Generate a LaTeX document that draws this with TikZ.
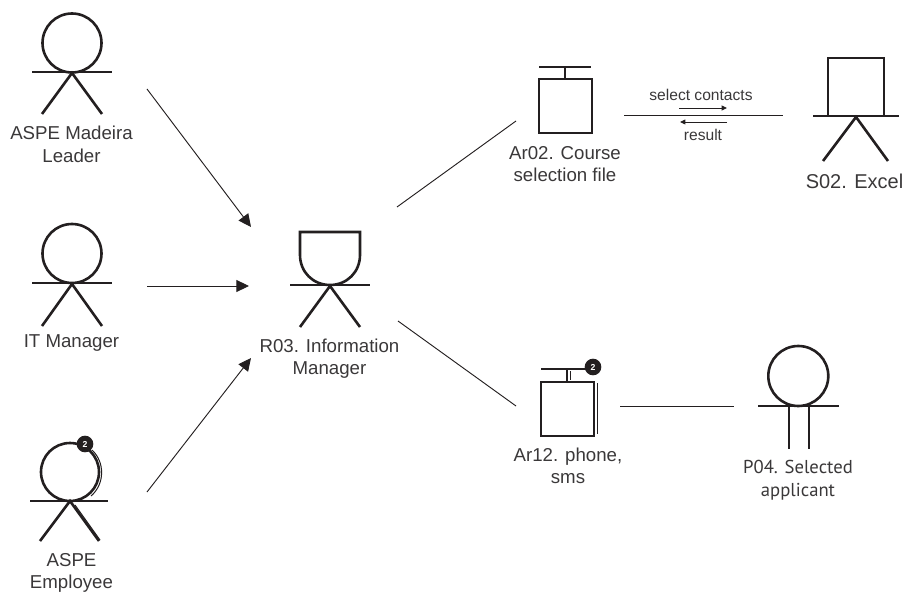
\documentclass[tikz,border=0pt]{standalone}
\usepackage{fontspec}
\setmainfont{Liberation Sans}
\newfontfamily\myriadlike{PT Sans}
\usetikzlibrary{arrows.meta}
\definecolor{ink}{HTML}{231F20}
\definecolor{txt}{HTML}{3A3839}
\tikzset{
  icon/.style={draw=ink,line width=1.95pt},
  thin twin/.style={draw=ink,line width=0.75pt},
  link/.style={draw=ink,line width=0.7pt},
  flow/.style={link,-{Triangle[length=9.5pt,width=9pt]}},
  small flow/.style={draw=ink,line width=0.7pt,-{Triangle[length=4pt,width=3.6pt]}},
  lab/.style={align=center,text=txt,font=\fontsize{14pt}{16.9pt}\selectfont,inner sep=0pt},
  msg/.style={text=txt,font=\fontsize{11.7pt}{14pt}\selectfont,inner sep=0pt},
  badge/.style={circle,fill=ink,text=white,inner sep=0pt,minimum size=12.5pt,font=\bfseries\fontsize{6.5pt}{7pt}\selectfont},
}
\begin{document}
\begin{tikzpicture}[x=0.75pt,y=-0.75pt]
\useasboundingbox (0,0) rectangle (905,595);
% free ends
\coordinate (a1s) at (147,89);
\coordinate (a1e) at (251,227);
\coordinate (a2s) at (147,286);
\coordinate (a2e) at (249,286);
\coordinate (a3s) at (147,492);
\coordinate (a3e) at (251,358);
\coordinate (r1s) at (397,207);
\coordinate (r1e) at (516,121);
\coordinate (r2s) at (398,321);
\coordinate (r2e) at (516,406);
\coordinate (f1s) at (624,115);
\coordinate (f1e) at (783,115);
\coordinate (f2s) at (620,406);
\coordinate (f2e) at (734,406);
\coordinate (m1s) at (679,108);
\coordinate (m1e) at (727,108);
\coordinate (m2s) at (727,122);
\coordinate (m2e) at (680,122);
% actor 1
\draw[icon] (72,43) circle (29.5);
\draw[icon] (32,72) -- (112,72);
\draw[icon] (42,114) -- (72,73) -- (102,114);
\node[lab] (t1) at (71.5,144.5) {ASPE Madeira\\Leader};
% actor 2
\draw[icon] (72,253.5) circle (29.5);
\draw[icon] (32,283) -- (112,283);
\draw[icon] (42,326) -- (72,284) -- (102,326);
\node[lab] (t2) at (71.5,343.5) {IT Manager};
% actor 3
\draw[icon] (70,472) circle (29);
\draw[icon] (30,501) -- (108,501);
\draw[icon] (40,541) -- (70,501) -- (99,541);
\draw[thin twin] (92,450) .. controls (105,462) and (105,484) .. (91,496);
\draw[thin twin] (75,505) -- (100,540);
\node[badge] (b3) at (85,444) {2};
\node[lab] (t3) at (71.5,573) {ASPE\\Employee};
% role
\draw[icon] (300,232) -- (360,232) -- (360,255) .. controls (360,272) and (347,285) .. (330,285) .. controls (313,285) and (300,272) .. (300,255) -- cycle;
\draw[icon] (290,285) -- (370,285);
\draw[icon] (300,327) -- (330,286) -- (360,327);
\node[lab] (t4) at (329.5,358.5) {R03. Information\\Manager};
% Ar02
\draw[icon] (539,67) -- (591,67);
\draw[icon] (565,67) -- (565,79);
\draw[icon] (539,79) rectangle (592,133);
\node[lab] (t5) at (565,164) {Ar02. Course\\selection file};
% Ar12
\draw[icon] (541,369) -- (590,369);
\draw[icon] (567,369) -- (567,382);
\draw[icon] (541,382) rectangle (594,436);
\draw[thin twin] (597,383) -- (597,434);
\draw[thin twin] (570,371) -- (570,380);
\node[badge] (b12) at (593,367) {2};
\node[lab] (t6) at (568,466) {Ar12. phone,\\sms};
% S02
\draw[icon] (828,58) rectangle (884,116);
\draw[icon] (813,116) -- (899,116);
\draw[icon] (823,161) -- (856,117) -- (888,161);
\node[lab,font=\fontsize{15pt}{18pt}\selectfont] (t7) at (854.5,181) {S02. Excel};
% P04
\draw[icon] (798.3,376) circle (30);
\draw[icon] (758,406) -- (839,406);
\draw[icon] (789,406) -- (789,449);
\draw[icon] (809,406) -- (809,449);
\node[lab,font=\myriadlike\fontsize{14pt}{17.2pt}\selectfont] (t8) at (798,480.5) {P04. Selected\\applicant};
% connectors
\draw[flow] (a1s) -- (a1e);
\draw[flow] (a2s) -- (a2e);
\draw[flow] (a3s) -- (a3e);
\draw[link] (r1s) -- (r1e);
\draw[link] (r2s) -- (r2e);
\draw[link] (f1s) -- (f1e);
\draw[link] (f2s) -- (f2e);
\draw[small flow] (m1s) -- (m1e);
\draw[small flow] (m2s) -- (m2e);
\node[msg] (m1) at (701,95) {select contacts};
\node[msg] (m2) at (703,135) {result};
\end{tikzpicture}
\end{document}
